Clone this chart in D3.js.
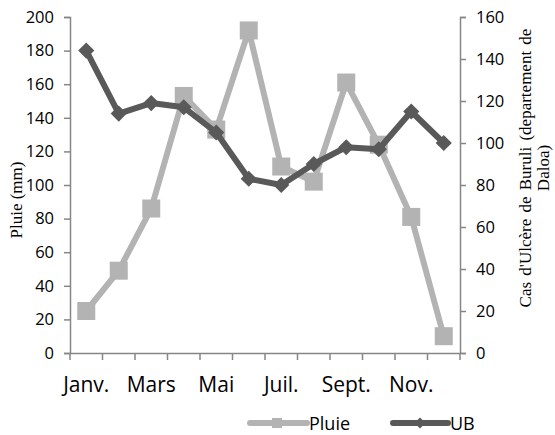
<!DOCTYPE html>
<html>
<head>
<meta charset="utf-8">
<script src="https://cdn.jsdelivr.net/npm/d3@7"></script>
<style>
  body { margin: 0; background: #fff; }
  svg { display: block; }
  .serif { font-family: "Liberation Serif", "Times New Roman", Times, serif; }
</style>
</head>
<body>
<script>
const months = ['Janv.', 'Févr.', 'Mars', 'Avr.', 'Mai', 'Juin', 'Juil.', 'Août', 'Sept.', 'Oct.', 'Nov.', 'Déc.'];
const pluie = [25, 49, 86, 153, 133, 192, 111, 102, 161, 124, 81, 10];
const ub = [144, 114, 119, 117, 105, 83, 80, 90, 98, 97, 115, 100];
const leftTicks = [0, 20, 40, 60, 80, 100, 120, 140, 160, 180, 200];
const rightTicks = [0, 20, 40, 60, 80, 100, 120, 140, 160];
const shownMonths = ['Janv.', 'Mars', 'Mai', 'Juil.', 'Sept.', 'Nov.'];

const width = 555, height = 435;
const plotL = 70, plotR = 460, plotT = 17, plotB = 353;
const axisColor = '#868686';
const pluieColor = '#b3b3b3';
const ubColor = '#595959';
const sans = '"Open Sans", Lato, sans-serif';

const svg = d3.select('body').append('svg')
  .attr('width', width)
  .attr('height', height);

const x = d3.scaleBand().domain(months).range([plotL, plotR]);
const yLeft = d3.scaleLinear().domain([0, 200]).range([plotB, plotT]);
const yRight = d3.scaleLinear().domain([0, 160]).range([plotB, plotT]);

// left axis
const gl = svg.append('g')
  .attr('transform', `translate(${plotL},0)`)
  .call(d3.axisLeft(yLeft).tickValues(leftTicks).tickSize(6).tickPadding(10));
gl.selectAll('text').style('font-family', sans).style('font-size', '16.5px').attr('fill', '#000');

// right axis
const gr = svg.append('g')
  .attr('transform', `translate(${plotR},0)`)
  .call(d3.axisRight(yRight).tickValues(rightTicks).tickSize(6).tickPadding(10));
gr.selectAll('text').style('font-family', sans).style('font-size', '16.5px').attr('fill', '#000');

// bottom axis: ticks at category boundaries
const gb = svg.append('g')
  .attr('transform', `translate(0,${plotB})`)
  .call(d3.axisBottom(x).tickSize(0).tickFormat(d => shownMonths.includes(d) ? d : ''));
gb.selectAll('text')
  .attr('y', 24)
  .style('font-family', sans).style('font-size', '21px').attr('fill', '#000');
gb.selectAll('.boundary')
  .data(d3.range(months.length + 1))
  .enter().append('line')
  .attr('x1', i => plotL + i * x.step())
  .attr('x2', i => plotL + i * x.step())
  .attr('y1', 0).attr('y2', 7)
  .attr('stroke', axisColor);

[gl, gr, gb].forEach(g => {
  g.select('.domain').attr('stroke', axisColor).attr('stroke-width', 1.5);
  g.selectAll('.tick line').attr('stroke', axisColor).attr('stroke-width', 1.5);
});
gb.selectAll('line').attr('stroke-width', 1.5);

const cx = d => x(d) + x.bandwidth() / 2;

// Pluie series
svg.append('path')
  .datum(pluie)
  .attr('fill', 'none')
  .attr('stroke', pluieColor)
  .attr('stroke-width', 6)
  .attr('stroke-linejoin', 'round')
  .attr('d', d3.line().x((d, i) => cx(months[i])).y(d => yLeft(d)));
svg.selectAll('.sq')
  .data(pluie)
  .enter().append('rect')
  .attr('x', (d, i) => cx(months[i]) - 9)
  .attr('y', d => yLeft(d) - 9)
  .attr('width', 18).attr('height', 18)
  .attr('fill', pluieColor);

// UB series
const diamond = d3.symbol().type(d3.symbolSquare).size(130);
svg.append('path')
  .datum(ub)
  .attr('fill', 'none')
  .attr('stroke', ubColor)
  .attr('stroke-width', 6)
  .attr('stroke-linejoin', 'round')
  .attr('d', d3.line().x((d, i) => cx(months[i])).y(d => yRight(d)));
svg.selectAll('.dm')
  .data(ub)
  .enter().append('path')
  .attr('d', diamond)
  .attr('transform', (d, i) => `translate(${cx(months[i])},${yRight(d)}) rotate(45)`)
  .attr('fill', ubColor);

// axis titles
svg.append('text')
  .attr('class', 'serif')
  .attr('transform', 'translate(22,200) rotate(-90)')
  .attr('text-anchor', 'middle')
  .attr('font-size', 17)
  .text('Pluie (mm)');
const rt = svg.append('text')
  .attr('class', 'serif')
  .attr('transform', 'translate(531,168) rotate(-90)')
  .attr('text-anchor', 'middle')
  .attr('font-size', 17)
  .attr('word-spacing', 2);
rt.append('tspan').attr('x', 0).attr('dy', 0).text("Cas d'Ulcère de Buruli (departement de");
rt.append('tspan').attr('x', 0).attr('dy', 18).text('Daloa)');

// legend
const legend = svg.append('g').attr('transform', 'translate(0,423)');
legend.append('line').attr('x1', 250).attr('x2', 307).attr('y1', 0).attr('y2', 0)
  .attr('stroke', pluieColor).attr('stroke-width', 6).attr('stroke-linecap', 'round');
legend.append('rect').attr('x', 272).attr('y', -5).attr('width', 10).attr('height', 10)
  .attr('fill', pluieColor);
legend.append('text').attr('x', 309).attr('y', 6.5)
  .style('font-family', sans).style('font-size', '18px').text('Pluie');
legend.append('line').attr('x1', 393).attr('x2', 448).attr('y1', 0).attr('y2', 0)
  .attr('stroke', ubColor).attr('stroke-width', 6).attr('stroke-linecap', 'round');
legend.append('path').attr('d', d3.symbol().type(d3.symbolSquare).size(60))
  .attr('transform', 'translate(420,0) rotate(45)').attr('fill', ubColor);
legend.append('text').attr('x', 450).attr('y', 6.5)
  .style('font-family', sans).style('font-size', '18px').text('UB');
</script>
</body>
</html>
